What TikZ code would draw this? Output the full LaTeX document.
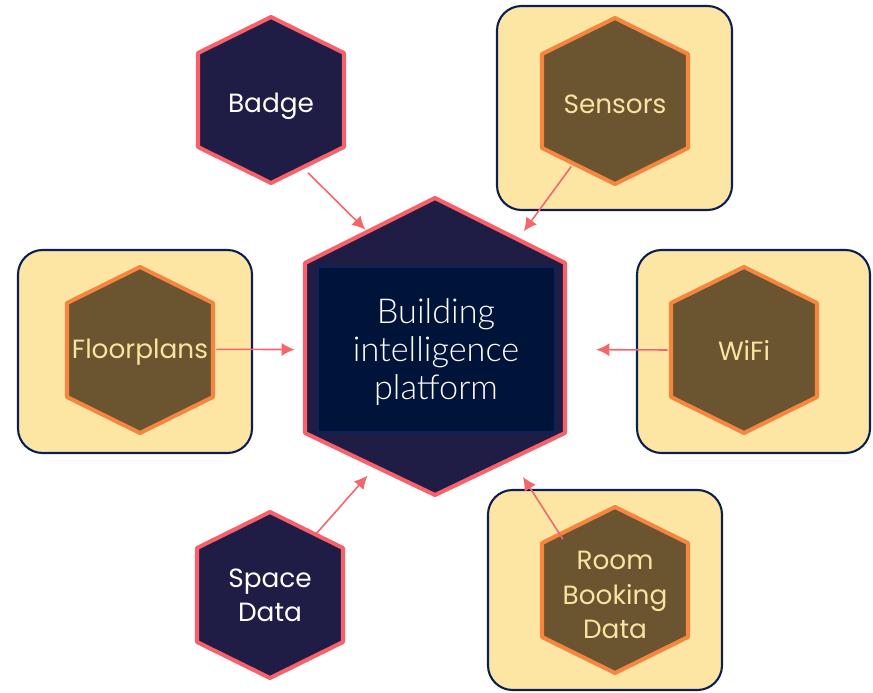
\documentclass[tikz,border=0pt]{standalone}
\usepackage{fontspec}
\setmainfont{Poppins}
\newfontfamily\thinfont{Lato Light}
\usetikzlibrary{arrows.meta}

\definecolor{navyfill}{HTML}{1F1D45}
\definecolor{pinkline}{HTML}{F8616B}
\definecolor{innerfill}{HTML}{00143A}
\definecolor{innerline}{HTML}{0B2358}
\definecolor{brownfill}{HTML}{6B5430}
\definecolor{orangeline}{HTML}{F6853F}
\definecolor{boxfill}{HTML}{FDE6A3}
\definecolor{boxline}{HTML}{0B1F55}
\definecolor{creamtext}{HTML}{F8E3A0}
\definecolor{feedcol}{HTML}{F4666C}

\tikzset{
  box/.style={draw=boxline, fill=boxfill, line width=1.2pt, rounded corners=14pt},
  navyhex/.style={draw=pinkline, fill=navyfill, line width=2.3pt, line join=round},
  brownhex/.style={draw=orangeline, fill=brownfill, line width=2.3pt, line join=round},
  spot/.style={circle, minimum size=3.04cm, inner sep=0pt, align=center,
    font=\fontsize{15}{19.5}\selectfont},
  hubspot/.style={circle, minimum size=5.64cm, inner sep=0pt, align=center,
    text=white, font=\thinfont\fontsize{19.5}{21.5}\selectfont},
  feed/.style={draw=feedcol, line width=0.9pt, -{Latex[length=7.5pt,width=7.5pt]}}
}

\begin{document}
\begin{tikzpicture}[x=0.02cm, y=-0.02cm]
  \useasboundingbox (0,0) rectangle (873,693);
  % yellow frames
  \draw[box] (497,6) rectangle (732,210);
  \draw[box] (18,250) rectangle (252,453);
  \draw[box] (637,250) rectangle (870,453);
  \draw[box] (488,490) rectangle (722,690);
  % hexagons
  \foreach \cx/\cy in {271/100, 270/595}
    \draw[navyhex] (\cx,\cy) ++(0,-83) -- ++(73,36) -- ++(0,94) -- ++(-73,36) -- ++(-73,-36) -- ++(0,-94) -- cycle;
  \foreach \cx/\cy in {615/101, 140/350, 744/350, 615/590}
    \draw[brownhex] (\cx,\cy) ++(0,-83) -- ++(73,36) -- ++(0,94) -- ++(-73,36) -- ++(-73,-36) -- ++(0,-94) -- cycle;
  \draw[navyhex] (435,198) -- (565,263) -- (565,433) -- (435,495) -- (305,433) -- (305,263) -- cycle;
  \draw[draw=innerline, fill=innerfill, line width=0.8pt] (318,267) rectangle (555,432);

  \node[hubspot] (hub) at (436,352) {Building\\intelligence\\platform};
  \node[spot, text=white] (badge) at (271,106) {Badge};
  \node[spot, text=white] (spacedata) at (270,595) {Space\\Data};
  \node[spot, text=creamtext] (sensors) at (615,104) {Sensors};
  \node[spot, text=creamtext] (floorplans) at (140,352) {Floorplans};
  \node[spot, text=creamtext] (wifi) at (744,350) {WiFi};
  \node[spot, text=creamtext] (room) at (615,595) {Room\\Booking\\Data};

  \draw[feed] (badge.-61) -- (hub.120);
  \draw[feed, shorten >=4.5pt] (sensors.-125) -- (hub.54);
  \draw[feed] (floorplans.2) -- (hub.179);
  \draw[feed, shorten >=10.8pt] (wifi.180) -- (hub.1);
  \draw[feed] (spacedata.53) -- (hub.-119);
  \draw[feed, shorten >=6.2pt] (room.133) -- (hub.-55);
\end{tikzpicture}
\end{document}
